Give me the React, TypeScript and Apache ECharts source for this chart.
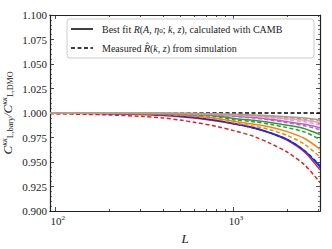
import React, { useEffect, useRef } from "react";
import * as echarts from "echarts";

const L = [93, 100, 150, 200, 300, 400, 500, 600, 800, 1000, 1300, 1600, 2000, 2500, 3050];

const redDashed = [0.9992, 0.9991, 0.9986, 0.998, 0.9966, 0.995, 0.9928, 0.9905, 0.9863, 0.982, 0.976, 0.969, 0.96, 0.947, 0.929];
const redSolid = [0.9997, 0.9997, 0.9995, 0.9992, 0.9985, 0.9975, 0.9962, 0.9948, 0.9918, 0.9888, 0.9845, 0.9795, 0.972, 0.96, 0.942];
const blueSolid = [0.9999, 0.9999, 0.9998, 0.9996, 0.999, 0.9982, 0.997, 0.9957, 0.9926, 0.9893, 0.985, 0.98, 0.973, 0.9615, 0.945];
const blueDashed = [1.0, 1.0, 0.9998, 0.9996, 0.999, 0.9981, 0.9969, 0.9955, 0.9924, 0.989, 0.9846, 0.9797, 0.9728, 0.9615, 0.9465];
const orangeSolid = [1.0, 1.0, 0.9999, 0.9997, 0.9993, 0.9987, 0.9979, 0.997, 0.9947, 0.9915, 0.9885, 0.9858, 0.981, 0.974, 0.963];
const orangeDashed = [1.0, 1.0, 0.9999, 0.9997, 0.9992, 0.9985, 0.9976, 0.9965, 0.9937, 0.99, 0.9865, 0.983, 0.977, 0.968, 0.955];
const greenSolid = [1.0, 1.0, 1.0, 0.9999, 0.9997, 0.9994, 0.999, 0.9984, 0.997, 0.9945, 0.9925, 0.9903, 0.9875, 0.984, 0.978];
const greenDashed = [1.0, 1.0, 1.0, 0.9999, 0.9996, 0.9992, 0.9987, 0.9981, 0.9963, 0.9932, 0.991, 0.9885, 0.985, 0.9805, 0.973];
const purpleSolid = [1.0, 1.0, 1.0, 1.0, 0.9998, 0.9996, 0.9993, 0.999, 0.9981, 0.997, 0.9955, 0.9937, 0.9912, 0.9885, 0.985];
const purpleDashed = [1.0, 1.0, 1.0, 0.9999, 0.9997, 0.9995, 0.9992, 0.9988, 0.9978, 0.9965, 0.9948, 0.9928, 0.99, 0.987, 0.983];
const pinkSolid = [1.0, 1.0, 1.0, 1.0, 0.9999, 0.9998, 0.9996, 0.9994, 0.9988, 0.998, 0.997, 0.9958, 0.9942, 0.9925, 0.99];
const pinkDashed = [1.0, 1.0, 1.0, 1.0, 0.9999, 0.9997, 0.9995, 0.9992, 0.9985, 0.9976, 0.9964, 0.995, 0.9932, 0.991, 0.988];
const brownSolid = [1.0, 1.0, 1.0, 1.0, 1.0, 0.9999, 0.9998, 0.9996, 0.9992, 0.9987, 0.998, 0.9972, 0.9962, 0.995, 0.993];
const brownDashed = [1.0, 1.0, 1.0, 1.0, 1.0, 0.9999, 0.9997, 0.9995, 0.999, 0.9984, 0.9976, 0.9967, 0.9955, 0.994, 0.992];
const referenceLine = [1.0, 1.0];
const referenceL = [93, 3050];

const xMajor = [100, 1000];
const xMinor = [200, 300, 400, 500, 600, 700, 800, 900, 2000, 3000];

const FONT = "Liberation Serif";

const curves: { name: string; color: string; dashed: boolean; values: number[] }[] = [
  { name: "red dashed", color: "#d62728", dashed: true, values: redDashed },
  { name: "red", color: "#d62728", dashed: false, values: redSolid },
  { name: "blue", color: "#0a2cff", dashed: false, values: blueSolid },
  { name: "blue dashed", color: "#0a2cff", dashed: true, values: blueDashed },
  { name: "orange", color: "#ff7f0e", dashed: false, values: orangeSolid },
  { name: "orange dashed", color: "#ff7f0e", dashed: true, values: orangeDashed },
  { name: "green", color: "#2ca02c", dashed: false, values: greenSolid },
  { name: "green dashed", color: "#2ca02c", dashed: true, values: greenDashed },
  { name: "purple", color: "#b266cc", dashed: false, values: purpleSolid },
  { name: "purple dashed", color: "#b266cc", dashed: true, values: purpleDashed },
  { name: "pink", color: "#e89ad6", dashed: false, values: pinkSolid },
  { name: "pink dashed", color: "#e89ad6", dashed: true, values: pinkDashed },
  { name: "brown", color: "#b89a80", dashed: false, values: brownSolid },
  { name: "brown dashed", color: "#b89a80", dashed: true, values: brownDashed },
];

export default function App() {
  const ref = useRef<HTMLDivElement>(null);
  useEffect(() => {
    if (!ref.current) return;
    const chart = echarts.init(ref.current, undefined, { renderer: "svg" });
    const xMin = 93;
    const xMax = 3050;
    const axisLine = { show: true, lineStyle: { color: "#222", width: 1.2 } };
    const mkX = (position: "bottom" | "top", ticks: number[], len: number, labels: boolean, name?: boolean) => ({
      type: "log",
      logBase: 10,
      min: xMin,
      max: xMax,
      position,
      axisLine,
      splitLine: { show: false },
      axisTick: { show: true, inside: true, length: len, customValues: ticks, lineStyle: { color: "#222", width: 0.8 } },
      axisLabel: labels
        ? {
            show: true,
            customValues: xMajor,
            margin: 3,
            fontFamily: FONT,
            fontSize: 11,
            color: "#222",
            align: "left",
            padding: [0, 0, 0, -5],
            formatter: (v: number) => "10{s|" + Math.round(Math.log10(v)) + "}",
            rich: { s: { fontFamily: FONT, fontSize: 7, verticalAlign: "top", padding: [0, 0, 6, 0], color: "#222" } },
          }
        : { show: false },
      name: name ? "L" : undefined,
      nameLocation: "middle",
      nameGap: 21,
      nameMoveOverlap: false,
      nameTextStyle: { fontFamily: FONT, fontSize: 13, fontStyle: "italic", color: "#222" },
    });
    const mkY = (position: "left" | "right", labels: boolean, name?: boolean) => ({
      type: "value",
      min: 0.9,
      max: 1.1,
      interval: 0.025,
      position,
      axisLine,
      splitLine: { show: false },
      axisTick: { show: true, inside: true, length: 4, lineStyle: { color: "#222", width: 0.8 } },
      minorTick: { show: true, splitNumber: 5, length: 2, lineStyle: { color: "#222", width: 0.6 } },
      axisLabel: labels
        ? {
            show: true,
            margin: 3,
            fontFamily: FONT,
            fontSize: 11,
            color: "#222",
            formatter: (v: number) => v.toFixed(3),
          }
        : { show: false },
      name: name
        ? "{c|C}{sp|κκ}{sb|L,bary}{c|/}{c|C}{sp|κκ}{sb|L,DMO}"
        : undefined,
      nameLocation: "middle",
      nameRotate: 90,
      nameGap: 36,
      nameMoveOverlap: false,
      nameTextStyle: {
        fontFamily: FONT,
        color: "#222",
        rich: {
          c: { fontFamily: FONT, fontSize: 13, fontStyle: "italic", color: "#222", lineHeight: 14, verticalAlign: "middle" },
          sp: { fontFamily: FONT, fontSize: 8, fontStyle: "italic", color: "#222", verticalAlign: "top", lineHeight: 14, padding: [0, 0, 3, 0] },
          sb: { fontFamily: FONT, fontSize: 8, color: "#222", verticalAlign: "bottom", lineHeight: 14, padding: [4, 0, 0, 0] },
        },
      },
    });

    const series: any[] = [
      {
        type: "line",
        name: "reference",
        data: referenceL.map((x, i) => [x, referenceLine[i]]),
        showSymbol: false,
        symbol: "none",
        lineStyle: { color: "#000", width: 1.5, type: [4, 2.5] },
        z: 1,
      },
      ...curves.map((c, k) => ({
        type: "line",
        name: c.name,
        data: L.map((x, i) => [x, c.values[i]]),
        showSymbol: false,
        symbol: "none",
        smooth: 0.3,
        lineStyle: { color: c.color, width: 1.5, type: c.dashed ? [4, 2.5] : "solid" },
        z: 2 + k,
      })),
    ];

    chart.setOption({
      animation: false,
      grid: { left: 50, right: 12, top: 15, bottom: 38, containLabel: false, outerBoundsMode: "none" },
      xAxis: [
        mkX("bottom", xMajor, 4, true, true),
        mkX("bottom", xMinor, 2, false),
        mkX("top", xMajor, 4, false),
        mkX("top", xMinor, 2, false),
      ],
      yAxis: [mkY("left", true, true), mkY("right", false)],
      series,
      graphic: [
        {
          type: "rect",
          z: 100,
          shape: { x: 67, y: 19, width: 247, height: 39, r: 3 },
          style: { fill: "rgba(255,255,255,0.85)", stroke: "#cccccc", lineWidth: 1 },
        },
        {
          type: "line",
          z: 101,
          shape: { x1: 71, y1: 29, x2: 93, y2: 29 },
          style: { stroke: "#000", lineWidth: 1.5 },
        },
        {
          type: "line",
          z: 101,
          shape: { x1: 71, y1: 48, x2: 93, y2: 48 },
          style: { stroke: "#000", lineWidth: 1.5, lineDash: [4, 2.5] },
        },
        {
          type: "text",
          z: 101,
          x: 102,
          y: 29,
          style: {
            text: "{n|Best fit }{i|R}{n|(}{i|A}{n|, }{i|η}{s|0}{n|; }{i|k}{n|, }{i|z}{n|), calculated with CAMB}",
            verticalAlign: "middle",
            rich: {
              n: { fontFamily: FONT, fontSize: 10, fill: "#222" },
              i: { fontFamily: FONT, fontSize: 10, fontStyle: "italic", fill: "#222" },
              s: { fontFamily: FONT, fontSize: 7, fill: "#222", verticalAlign: "bottom", padding: [4, 0, 0, 0] },
            },
          },
        },
        {
          type: "text",
          z: 101,
          x: 102,
          y: 48,
          style: {
            text: "{n|Measured }{i|R\u0302}{n|(}{i|k}{n|, }{i|z}{n|) from simulation}",
            verticalAlign: "middle",
            rich: {
              n: { fontFamily: FONT, fontSize: 10, fill: "#222" },
              i: { fontFamily: FONT, fontSize: 10, fontStyle: "italic", fill: "#222" },
            },
          },
        },
      ],
    });
    return () => chart.dispose();
  }, []);
  return <div ref={ref} style={{ width: 332, height: 249, position: "absolute", left: 0, top: 0 }} />;
}
